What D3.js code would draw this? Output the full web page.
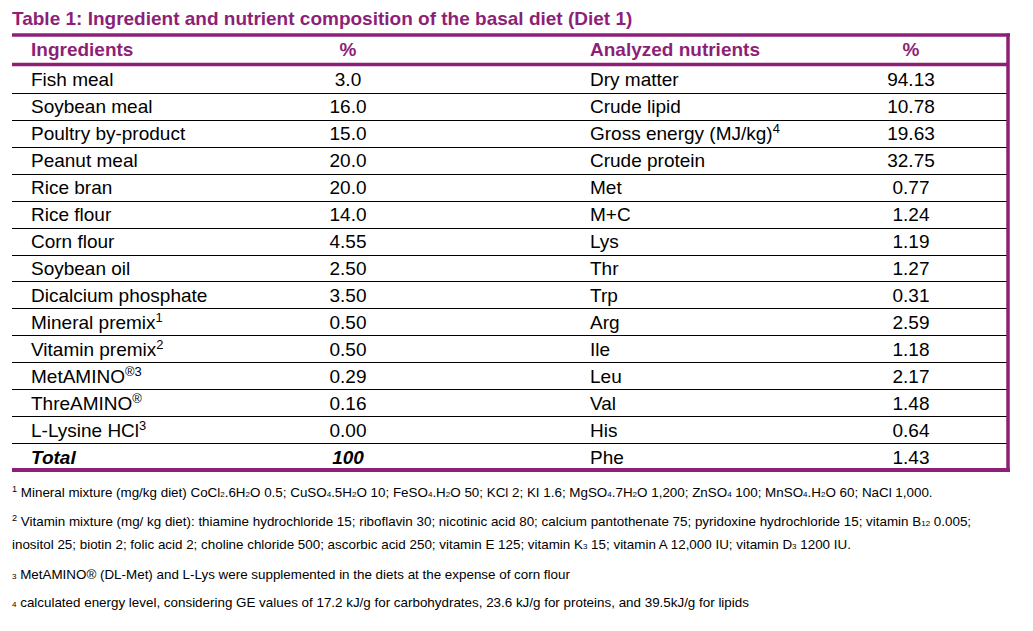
<!DOCTYPE html>
<html><head><meta charset="utf-8">
<script src="https://cdn.jsdelivr.net/npm/d3@7"></script>
<style>body{margin:0;background:#fff}svg{font-family:"Liberation Sans",Arial,sans-serif}</style>
</head><body><div id="chart"></div>
<script>
// ^{..} = superscript, _{..} = subscript
var ingredients = ["Fish meal","Soybean meal","Poultry by-product","Peanut meal","Rice bran","Rice flour","Corn flour","Soybean oil","Dicalcium phosphate","Mineral premix^{1}","Vitamin premix^{2}","MetAMINO^{®3}","ThreAMINO^{®}","L-Lysine HCl^{3}","Total"];
var ingredientPct = ["3.0","16.0","15.0","20.0","20.0","14.0","4.55","2.50","3.50","0.50","0.50","0.29","0.16","0.00","100"];
var nutrients = ["Dry matter","Crude lipid","Gross energy (MJ/kg)^{4}","Crude protein","Met","M+C","Lys","Thr","Trp","Arg","Ile","Leu","Val","His","Phe"];
var nutrientPct = ["94.13","10.78","19.63","32.75","0.77","1.24","1.19","1.27","0.31","2.59","1.18","2.17","1.48","0.64","1.43"];
var footnotes = [
  ["^{1} Mineral mixture (mg/kg diet) CoCl_{2}.6H_{2}O 0.5; CuSO_{4}.5H_{2}O 10; FeSO_{4}.H_{2}O 50; KCl 2; KI 1.6; MgSO_{4}.7H_{2}O 1,200; ZnSO_{4} 100; MnSO_{4}.H_{2}O 60; NaCl 1,000."],
  ["^{2} Vitamin mixture (mg/ kg diet): thiamine hydrochloride 15; riboflavin 30; nicotinic acid 80; calcium pantothenate 75; pyridoxine hydrochloride 15; vitamin B_{12} 0.005;",
   "inositol 25; biotin 2; folic acid 2; choline chloride 500; ascorbic acid 250; vitamin E 125; vitamin K_{3} 15; vitamin A 12,000 IU; vitamin D_{3} 1200 IU."],
  ["_{3} MetAMINO® (DL-Met) and L-Lys were supplemented in the diets at the expense of corn flour"],
  ["_{4} calculated energy level, considering GE values of 17.2 kJ/g for carbohydrates, 23.6 kJ/g for proteins, and 39.5kJ/g for lipids"]
];
var footY = [[497],[526,549],[579],[607]];

var purple = "#8e1f78";
var fs = 19, ffs = 13.4;
var svg = d3.select("#chart").append("svg").attr("width",1033).attr("height",631);

function rich(sel, str, size){
  var parts = str.split(/(\^\{[^}]*\}|_\{[^}]*\})/).filter(function(s){return s.length;});
  parts.forEach(function(p){
    var m = p.match(/^(\^|_)\{(.*)\}$/);
    if(m){
      sel.append("tspan").attr("font-size", size*(m[1]=="^" ? 0.68 : 0.6))
        .attr("baseline-shift", m[1]=="^" ? size*0.36 : 0).text(m[2]);
    } else sel.append("tspan").text(p);
  });
}

svg.append("text").attr("x",12).attr("y",25).attr("fill",purple)
  .attr("font-weight","bold").attr("font-size",fs)
  .text("Table 1: Ingredient and nutrient composition of the basal diet (Diet 1)");

var rows = d3.range(ingredients.length);
var y = d3.scaleBand().domain(rows).range([66,470]);
var x0 = 12, x1 = 1008;

// row separators
svg.selectAll("line.sep").data(rows.slice(1)).enter().append("line")
  .attr("x1",x0).attr("x2",x1).attr("y1",function(d){return Math.round(y(d))+0.5;})
  .attr("y2",function(d){return Math.round(y(d))+0.5;}).attr("stroke","#000").attr("stroke-width",1);

// header
var hy = 56;
[["Ingredients",31,"start"],["%",348,"middle"],["Analyzed nutrients",590,"start"],["%",911,"middle"]].forEach(function(h){
  svg.append("text").attr("x",h[1]).attr("y",hy).attr("text-anchor",h[2]).attr("fill",purple)
    .attr("font-weight","bold").attr("font-size",fs).text(h[0]);
});

function col(data, xp, anchor){
  svg.selectAll(null).data(data).enter().append("text")
    .attr("x",xp).attr("y",function(d,i){return y(i)+y.bandwidth()/2+7;})
    .attr("text-anchor",anchor).attr("font-size",fs).attr("fill","#000")
    .each(function(d,i){
      var t = d3.select(this);
      if(d=="Total" || (data===ingredientPct && i==data.length-1)) t.attr("font-weight","bold").attr("font-style","italic");
      rich(t,d,fs);
    });
}
col(ingredients,31,"start");
col(ingredientPct,348,"middle");
col(nutrients,590,"start");
col(nutrientPct,911,"middle");

// borders
svg.append("line").attr("x1",x0).attr("x2",x1+2).attr("y1",35).attr("y2",35).attr("stroke",purple).attr("stroke-width",3.5);
svg.append("line").attr("x1",x0).attr("x2",x1).attr("y1",64.5).attr("y2",64.5).attr("stroke",purple).attr("stroke-width",3.5);
svg.append("line").attr("x1",x0).attr("x2",x1+2).attr("y1",470).attr("y2",470).attr("stroke",purple).attr("stroke-width",4);
svg.append("line").attr("x1",x1).attr("x2",x1).attr("y1",33.5).attr("y2",472).attr("stroke",purple).attr("stroke-width",3.5);

// footnotes
footnotes.forEach(function(lines,i){
  lines.forEach(function(l,j){
    var t = svg.append("text").attr("x",12).attr("y",footY[i][j]).attr("font-size",ffs).attr("fill","#000");
    rich(t,l,ffs);
  });
});
</script></body></html>
